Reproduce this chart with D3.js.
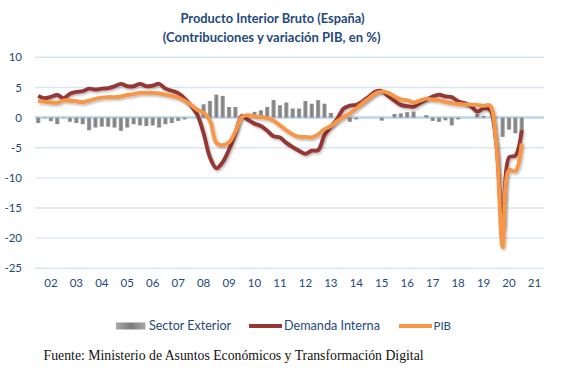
<!DOCTYPE html>
<html><head><meta charset="utf-8">
<script src="https://cdn.jsdelivr.net/npm/d3@7/dist/d3.min.js"></script>
<style>body{margin:0;background:#fff}svg{display:block}</style>
</head><body>
<svg id="chart" width="567" height="380"></svg>
<script>
// ---------- data ----------
const years = ["02","03","04","05","06","07","08","09","10","11","12","13","14","15","16","17","18","19","20","21"];
const categories = years.flatMap(y => ["T1","T2","T3","T4"].map(q => "20" + y + q)); // 2002T1 .. 2021T4
const yTicks = [10, 5, 0, -5, -10, -15, -20, -25];
const seriesNames = ["Sector Exterior", "Demanda Interna", "PIB"];

// Sector Exterior (contribution, pp) 2002T1 .. 2021T1
const sectorExterior = [
  -0.9,-0.1,-0.6,-1.1, -0.1,-0.7,-0.9,-1.1, -2.1,-1.65,-1.5,-1.5, -1.65,-2.2,-1.65,-1.1,
  -1.3,-1.4,-1.3,-1.65, -1.1,-0.9,-0.55,-0.3, 0,0,2.2,2.75, 3.8,3.6,1.75,1.75,
  0,0,0.95,1.2, 1.75,2.9,2.05,2.5, 1.5,1.5,2.75,2.3, 2.9,2.3,0.75,0,
  0,-0.7,-0.3,0, 0,0,-0.5,0, 0.6,0.7,0.9,1.0, 0,0.4,-0.55,-0.7,
  -0.45,-1.3,-0.3,0, 0,0.6,0.3,0, 0,-3.2,-2.0,-2.6, -2.6
];
// Demanda Interna (contribution, pp)
const demandaInterna = [
  3.6,3.2,3.45,3.75, 3.2,3.95,4.25,4.4, 4.8,4.65,4.8,4.9, 5.2,5.6,5.2,5.2,
  5.6,5.2,5.3,5.6, 4.8,4.45,4.05,3.2, 2.0,0.5,-2.6,-6.6, -8.4,-7.4,-5.3,-2.6,
  0.3,-0.4,-1.0,-1.4, -2.2,-3.1,-3.3,-4.2, -4.9,-5.5,-6.0,-5.5, -5.4,-2.9,-1.5,-0.2,
  1.5,2.0,2.1,2.7, 3.5,4.3,4.4,3.6, 2.8,2.1,1.9,1.8, 2.4,3.0,3.5,3.8,
  3.5,3.4,2.7,2.4, 1.9,1.0,1.5,1.3, -4.3,-18.5,-6.6,-6.3, -2.1
];
// PIB (variación interanual, %)
const pib = [
  2.75,2.65,2.5,2.45, 2.85,2.8,2.7,2.55, 2.8,3.1,3.3,3.4, 3.4,3.5,3.75,3.9,
  4.1,4.1,4.1,4.0, 3.8,3.6,3.3,2.8, 2.1,1.3,0.8,-0.5, -4.2,-4.6,-4.1,-2.3,
  0.1,0.4,0.2,0.1, -0.1,-0.5,-1.3,-2.1, -2.8,-3.2,-3.2,-3.3, -2.8,-1.9,-1.4,-0.6,
  0.1,0.7,1.5,2.4, 3.2,4.0,4.3,4.1, 3.5,3.0,2.9,2.5, 2.8,3.15,3.0,2.85,
  2.6,2.4,2.25,2.2, 2.15,2.1,1.95,2.0, -4.3,-21.5,-8.7,-8.9, -4.3
];

// ---------- drawing ----------
const svg = d3.select("#chart");
const textColor = "#24497c";
const sans = "Lato, 'Open Sans', sans-serif";

const x = d3.scaleBand().domain(categories).range([35, 544]).paddingInner(0.32).paddingOuter(0.16);
const y = d3.scaleLinear().domain([-25, 10]).range([268.3, 57.3]);
const cx = i => x(categories[i]) + x.bandwidth() / 2;

const defs = svg.append("defs");
const g1 = defs.append("linearGradient").attr("id", "barGrad").attr("x1", "0").attr("x2", "1").attr("y1", "0").attr("y2", "0");
g1.append("stop").attr("offset", "0%").attr("stop-color", "#a9a9a9");
g1.append("stop").attr("offset", "50%").attr("stop-color", "#7c7c7c");
g1.append("stop").attr("offset", "100%").attr("stop-color", "#a9a9a9");
const f = defs.append("filter").attr("id", "shadow").attr("x", "-5%").attr("y", "-5%").attr("width", "110%").attr("height", "110%");
f.append("feDropShadow").attr("dx", 1.2).attr("dy", 1.6).attr("stdDeviation", 1.1)
  .attr("flood-color", "#000").attr("flood-opacity", 0.28);

// gridlines
svg.append("g").selectAll("line").data(yTicks.filter(d => d !== 0)).join("line")
  .attr("x1", 35).attr("x2", 544)
  .attr("y1", d => y(d)).attr("y2", d => y(d))
  .attr("stroke", "#dbe5f2").attr("stroke-width", 1.4);
svg.append("line").attr("x1", 35).attr("x2", 544).attr("y1", y(0)).attr("y2", y(0))
  .attr("stroke", "#c6d9f1").attr("stroke-width", 3);

// y axis labels
const yAxis = svg.append("g").attr("transform", "translate(22,0)")
  .call(d3.axisLeft(y).tickValues(yTicks).tickSize(0).tickPadding(0).tickFormat(d => String(d)));
yAxis.select(".domain").remove();
yAxis.selectAll("text").attr("fill", textColor).attr("font-family", sans).attr("font-size", 11.5);

// x axis labels (placed at 3rd quarter of each year)
const xAxis = svg.append("g").attr("transform", "translate(0,279)")
  .call(d3.axisBottom(x).tickValues(categories.filter(c => c.endsWith("T3")))
    .tickSize(0).tickPadding(0).tickFormat(c => c.slice(2, 4)));
xAxis.select(".domain").remove();
xAxis.selectAll("text").attr("fill", textColor).attr("font-family", sans).attr("font-size", 11.5);

// bars
svg.append("g").selectAll("rect").data(sectorExterior).join("rect")
  .attr("x", (d, i) => x(categories[i]))
  .attr("width", x.bandwidth())
  .attr("y", d => y(Math.max(0, d)))
  .attr("height", d => Math.abs(y(d) - y(0)))
  .attr("fill", "url(#barGrad)");

// lines
const line = d3.line().x((d, i) => cx(i)).y(d => y(d)).curve(d3.curveCatmullRom.alpha(0.5));
svg.append("path").datum(demandaInterna).attr("d", line)
  .attr("fill", "none").attr("stroke", "#953735").attr("stroke-width", 3.9)
  .attr("stroke-linejoin", "round").attr("filter", "url(#shadow)");
svg.append("path").datum(pib).attr("d", line)
  .attr("fill", "none").attr("stroke", "#f79646").attr("stroke-width", 3.9)
  .attr("stroke-linejoin", "round").attr("filter", "url(#shadow)");

// helper to fit text width
function fit(t, target) {
  const w = t.node().getComputedTextLength();
  const fs = parseFloat(t.attr("font-size"));
  t.attr("font-size", (fs * target / w).toFixed(2));
  return t;
}

// title
const t1 = svg.append("text").attr("x", 272.5).attr("y", 23).attr("text-anchor", "middle")
  .attr("font-family", sans).attr("font-weight", "bold").attr("font-size", 12).attr("fill", textColor)
  .text("Producto Interior Bruto (España)");
fit(t1, 184);
const t2 = svg.append("text").attr("x", 271.6).attr("y", 41.5).attr("text-anchor", "middle")
  .attr("font-family", sans).attr("font-weight", "bold").attr("font-size", 12).attr("fill", textColor)
  .text("(Contribuciones y variación PIB, en %)");
fit(t2, 218);

// legend
const legY = 326;
const leg = svg.append("g");
leg.append("rect").attr("x", 116).attr("y", legY - 3.5).attr("width", 29.5).attr("height", 7).attr("fill", "url(#barGrad)");
leg.append("line").attr("x1", 249).attr("x2", 282).attr("y1", legY).attr("y2", legY)
  .attr("stroke", "#953735").attr("stroke-width", 3.9);
leg.append("line").attr("x1", 399).attr("x2", 432).attr("y1", legY).attr("y2", legY)
  .attr("stroke", "#f79646").attr("stroke-width", 3.9);
const legText = [[149, 82], [284, 96], [433.5, 17.5]];
seriesNames.forEach((n, i) => {
  const t = leg.append("text").attr("x", legText[i][0]).attr("y", legY + 4)
    .attr("font-family", sans).attr("font-size", 12).attr("fill", textColor).text(n);
  fit(t, legText[i][1]);
});

// source
const src = svg.append("text").attr("x", 43.6).attr("y", 360)
  .attr("font-family", "'Liberation Serif', 'Times New Roman', serif").attr("font-size", 14).attr("fill", "#111")
  .text("Fuente: Ministerio de Asuntos Económicos y Transformación Digital");
fit(src, 380);
</script>
</body></html>
